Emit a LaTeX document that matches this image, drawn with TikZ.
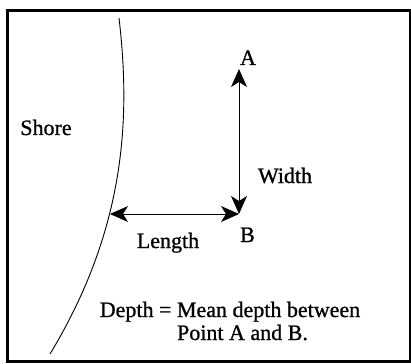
\documentclass[tikz,border=0pt]{standalone}
\usepackage{fontspec}
\setmainfont{Liberation Serif}
\newfontfamily\heavyserif[FakeBold=0.9]{Liberation Serif}
\usetikzlibrary{arrows.meta}
\begin{document}
\begin{tikzpicture}[x=1pt,y=-1pt,
  lbl/.style={inner sep=0pt,anchor=base,font=\heavyserif\fontsize{22}{23}\selectfont},
  dim/.style={line width=1pt,{Stealth[length=18pt,width=16pt,inset=5pt]}-{Stealth[length=18pt,width=16pt,inset=5pt]}},
  frame/.style={line width=3.2pt},
  shore/.style={line width=0.9pt}]
\useasboundingbox (0,0) rectangle (411,363);
\draw[frame] (7.5,10.3) rectangle (410.5,361.5);
\draw[shore] (119,18) .. controls (131,120) and (125,230) .. (50,354);
\coordinate (ptA) at (239,69);
\coordinate (ptB) at (239,214);
\coordinate (ptS) at (110,214);
\draw[dim] (ptA) -- (ptB);
\draw[dim] (ptS) -- (ptB);
\node[lbl] (a) at (248,65) {A};
\node[lbl] (b) at (247.5,242) {B};
\node[lbl] (shore) at (46,135) {Shore};
\node[lbl] (width) at (285,183) {Width};
\node[lbl] (length) at (168,248) {Length};
\node[lbl] (depth1) at (230,317) {Depth = Mean depth between};
\node[lbl] (depth2) at (242.5,340) {Point A and B.};
\end{tikzpicture}
\end{document}
